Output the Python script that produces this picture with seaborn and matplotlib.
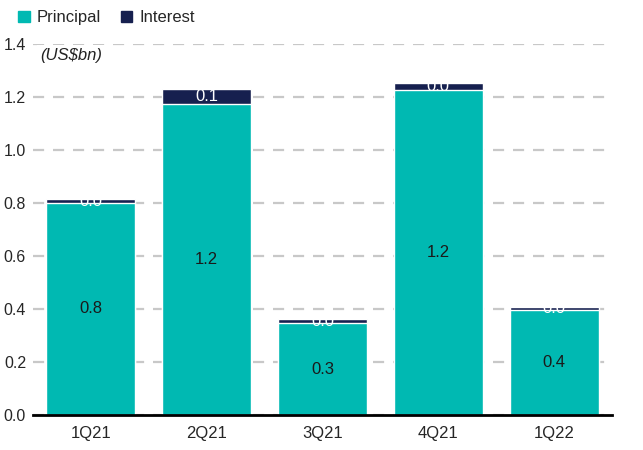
import seaborn as sns
import numpy as np
import pandas as pd
import matplotlib.pyplot as plt
from matplotlib.patches import Patch

# Values (US$bn)
quarters = ['1Q21', '2Q21', '3Q21', '4Q21', '1Q22']
principal = [0.80, 1.175, 0.347, 1.227, 0.395]
interest = [0.015, 0.057, 0.015, 0.026, 0.011]

teal = '#00B9B2'
navy = '#16204F'

df = pd.DataFrame({'Quarter': quarters, 'Principal': principal, 'Interest': interest})
df['Total'] = df['Principal'] + df['Interest']

sns.set_style('white')
plt.rcParams['font.family'] = ['Liberation Sans', 'DejaVu Sans']

fig = plt.figure(figsize=(6.43, 4.5), dpi=100)
ax = fig.add_axes([0.0513, 0.0778, 0.9005, 0.8244])

# stacked bars: total (interest colour) underneath, principal on top
sns.barplot(x='Quarter', y='Total', data=df, ax=ax, color=navy, width=0.77,
            saturation=1, zorder=3)
sns.barplot(x='Quarter', y='Principal', data=df, ax=ax, color=teal, width=0.77,
            saturation=1, zorder=3)

for i, (p, it) in enumerate(zip(principal, interest)):
    ax.text(i, p / 2, f'{p:.1f}', ha='center', va='center', fontsize=12,
            color='#1a1a1a', zorder=5)
    ax.text(i, p + it / 2, f'{it:.1f}', ha='center', va='center', fontsize=12,
            color='white', zorder=5)

ax.set_ylim(0, 1.4)
ax.set_xlim(-0.5, 4.5)
ax.set_yticks(np.arange(0, 1.41, 0.2))
ax.set_yticklabels([f'{v:.1f}' for v in np.arange(0, 1.41, 0.2)], fontsize=11.5)
ax.set_xlabel('')
ax.set_ylabel('')
ax.tick_params(axis='y', length=0, pad=5)
ax.tick_params(axis='x', which='major', length=0, labelsize=12, pad=8)
ax.set_xticks(np.arange(-0.5, 5, 1), minor=True)
ax.tick_params(axis='x', which='minor', length=5, width=1.5, color='black', direction='out')

ax.yaxis.grid(True, linestyle=(0, (5, 4)), color='#C8C8C8', lw=1.6, zorder=0)
ax.set_axisbelow(True)
for s in ['left', 'right', 'top']:
    ax.spines[s].set_visible(False)
ax.spines['bottom'].set_color('black')
ax.spines['bottom'].set_linewidth(2)
ax.spines['bottom'].set_zorder(6)

ax.text(0.012, 0.97, '(US$bn)', transform=ax.transAxes, style='italic', fontsize=12,
        ha='left', va='center', color='#222222',
        bbox=dict(facecolor='white', edgecolor='none', pad=2), zorder=4)

handles = [Patch(color=teal, label='Principal'), Patch(color=navy, label='Interest')]
fig.legend(handles=handles, loc='upper left', bbox_to_anchor=(0.005, 1.01), ncol=2,
           frameon=False, fontsize=12, handlelength=0.7, handleheight=0.7,
           handletextpad=0.4, columnspacing=1.2)

fig.savefig('out.png', dpi=100)
